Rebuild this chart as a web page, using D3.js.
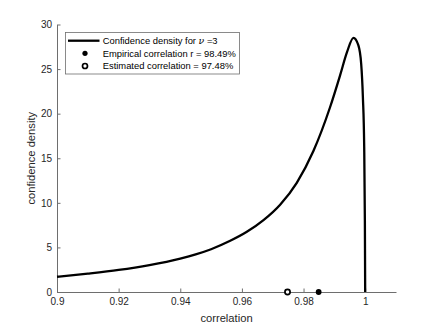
<!DOCTYPE html>
<html>
<head>
<meta charset="utf-8">
<script src="https://cdn.jsdelivr.net/npm/d3@7/dist/d3.min.js"></script>
<style>
  html, body { margin: 0; padding: 0; background: #fff; }
  svg { display: block; font-family: "Liberation Sans", Arial, Helvetica, sans-serif; }
</style>
</head>
<body>
<svg id="chart" width="438" height="328"></svg>
<script>
// ---- data ----
const curveX = [0.900, 0.910, 0.920, 0.930, 0.940, 0.945, 0.950, 0.9562, 0.9616, 0.9670,
                0.9724, 0.9778, 0.9832, 0.9886, 0.9919, 0.9941, 0.9962, 0.9978, 0.9987,
                0.99925, 0.99968, 0.9999, 1.0000];
const curveY = [1.71, 2.06, 2.47, 3.02, 3.75, 4.22, 4.80, 5.74, 6.75, 8.06,
                9.79, 12.25, 15.81, 20.72, 24.35, 26.9, 28.5, 27.65, 25.6,
                21.9, 16.3, 8.0, 0.0];
const empiricalR = 0.9849;
const estimatedR = 0.9748;
const xTicks = [0.9, 0.92, 0.94, 0.96, 0.98, 1];
const xTickLabels = ["0.9", "0.92", "0.94", "0.96", "0.98", "1"];
const yTicks = [0, 5, 10, 15, 20, 25, 30];
const yTickLabels = ["0", "5", "10", "15", "20", "25", "30"];
const legendLabels = ["Confidence density for ", "Empirical correlation r = 98.49%", "Estimated correlation = 97.48%"];

// ---- layout ----
const svg = d3.select("#chart");
const textColor = "#262626";
const axisColor = "#6e6e6e";
const x = d3.scaleLinear().domain([0.9, 1.01]).range([57, 396]);
const y = d3.scaleLinear().domain([0, 30]).range([292, 24.5]);

// axes
const xAxis = d3.axisBottom(x).tickValues(xTicks)
  .tickFormat((d, i) => xTickLabels[i]).tickSizeInner(-3.5).tickSizeOuter(0).tickPadding(6);
const yAxis = d3.axisLeft(y).tickValues(yTicks)
  .tickFormat((d, i) => yTickLabels[i]).tickSizeInner(-3.5).tickSizeOuter(0).tickPadding(5);

const gx = svg.append("g").attr("transform", `translate(0,${y(0)})`).call(xAxis);
const gy = svg.append("g").attr("transform", `translate(${x(0.9)},0)`).call(yAxis);
[gx, gy].forEach(g => {
  g.select(".domain").attr("stroke", axisColor).attr("stroke-width", 1);
  g.selectAll(".tick line").attr("stroke", axisColor).attr("stroke-width", 1);
  g.selectAll(".tick text").attr("fill", textColor).attr("font-size", 10)
    .attr("font-family", "Liberation Sans, Arial, sans-serif");
});

// axis labels
svg.append("text").attr("x", (x(0.9) + x(1.01)) / 2).attr("y", 322)
  .attr("text-anchor", "middle").attr("font-size", 11.2).attr("fill", textColor)
  .text("correlation");
svg.append("text")
  .attr("transform", `translate(35,${(y(0) + y(30)) / 2}) rotate(-90)`)
  .attr("text-anchor", "middle").attr("font-size", 11.2).attr("fill", textColor)
  .text("confidence density");

// curve
const pts = curveX.map((d, i) => [d, curveY[i]]);
const line = d3.line().x(d => x(d[0])).y(d => y(d[1])).curve(d3.curveMonotoneX);
svg.append("path").datum(pts).attr("d", line)
  .attr("fill", "none").attr("stroke", "#000").attr("stroke-width", 2.3)
  .attr("stroke-linejoin", "round");

// markers
svg.append("circle").attr("cx", x(estimatedR)).attr("cy", y(0)).attr("r", 2.6)
  .attr("fill", "#fff").attr("stroke", "#000").attr("stroke-width", 1.7);
svg.append("circle").attr("cx", x(empiricalR)).attr("cy", y(0)).attr("r", 2.9)
  .attr("fill", "#000");

// legend
const lg = svg.append("g");
lg.append("rect").attr("x", 65.5).attr("y", 32.5).attr("width", 174).attr("height", 41.5)
  .attr("fill", "#fff").attr("stroke", axisColor).attr("stroke-width", 0.8);
const rowY = [40.7, 53.3, 66];
lg.append("line").attr("x1", 68).attr("x2", 99.5).attr("y1", rowY[0]).attr("y2", rowY[0])
  .attr("stroke", "#000").attr("stroke-width", 2.3);
lg.append("circle").attr("cx", 85).attr("cy", rowY[1]).attr("r", 2.6).attr("fill", "#000");
lg.append("circle").attr("cx", 85).attr("cy", rowY[2]).attr("r", 2.5)
  .attr("fill", "#fff").attr("stroke", "#000").attr("stroke-width", 1.7);
const t0 = lg.append("text").attr("x", 102.7).attr("y", rowY[0] + 3.4)
  .attr("font-size", 9.4).attr("fill", "#000");
t0.append("tspan").text(legendLabels[0]);
t0.append("tspan").attr("font-style", "italic").attr("font-family", "DejaVu Serif, serif").text("ν");
t0.append("tspan").text(" =3");
lg.append("text").attr("x", 102.7).attr("y", rowY[1] + 3.4)
  .attr("font-size", 9.4).attr("fill", "#000").text(legendLabels[1]);
lg.append("text").attr("x", 102.7).attr("y", rowY[2] + 3.4)
  .attr("font-size", 9.4).attr("fill", "#000").text(legendLabels[2]);
</script>
</body>
</html>
